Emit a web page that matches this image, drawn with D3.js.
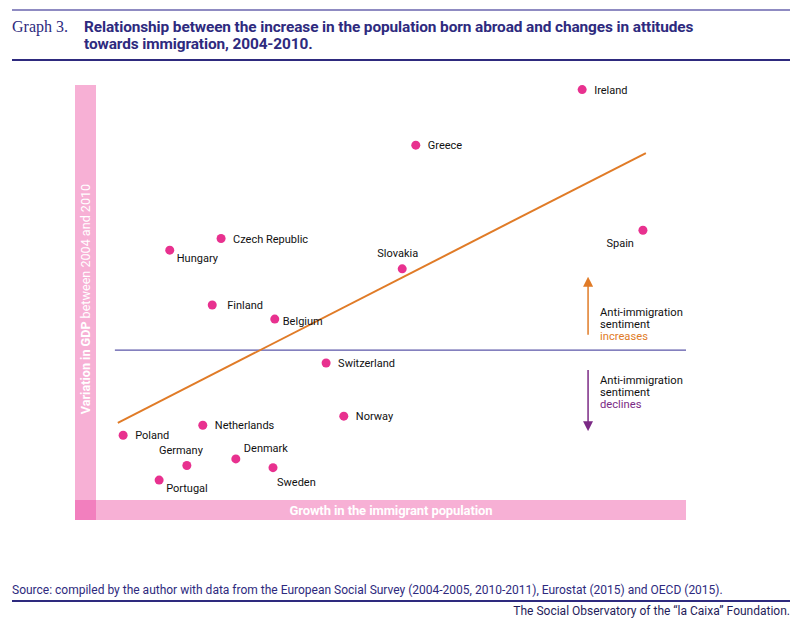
<!DOCTYPE html>
<html>
<head>
<meta charset="utf-8">
<script src="https://cdn.jsdelivr.net/npm/d3@7"></script>
<style>
  body { margin: 0; background: #fff; }
  text { font-family: Roboto, "Noto Sans", sans-serif; }
</style>
</head>
<body>
<script>
// chart values (abstract units, no ticks on the original)
var countries = ["Ireland","Greece","Czech Republic","Hungary","Finland","Belgium",
                 "Switzerland","Slovakia","Spain","Norway","Poland","Netherlands",
                 "Germany","Denmark","Sweden","Portugal"];
var growth    = [82.4, 54.2, 21.2, 12.5, 19.7, 30.3, 39.0, 51.9, 92.7, 42.0, 4.6, 18.1, 15.4, 23.7, 30.0, 10.7];
var gdpChange = [98.9, 85.5, 63.0, 60.2, 47.0, 43.6, 33.0, 55.7, 65.0, 20.2, 15.6, 18.0, 8.3, 9.9, 7.8, 4.8];
var trendX = [3.7, 93.2];
var trendY = [18.6, 83.6];
var refLevel = 36.1;

// where each label sits relative to its dot
var labelPos = {
  "Hungary":"belowRight", "Slovakia":"aboveLeft", "Spain":"belowLeft",
  "Germany":"aboveLeft", "Denmark":"aboveRight", "Sweden":"below",
  "Portugal":"belowRight", "Belgium":"nearRight", "Finland":"farRight"
};

var svgWidth = 800, svgHeight = 626;
var navy = "#2e2a7e", pink = "#e8318f", band = "#f7b0d5", corner = "#f27fbe";
var orange = "#e07b27", purple = "#7b2a85";

var svg = d3.select("body").append("svg")
    .attr("width", svgWidth)
    .attr("height", svgHeight);

var x = d3.scaleLinear().domain([0, 100]).range([96, 686]);
var y = d3.scaleLinear().domain([0, 100]).range([500, 85]);

// header
svg.append("line").attr("x1",12).attr("x2",790).attr("y1",10).attr("y2",10)
   .attr("stroke","#8f8bc2").attr("stroke-width",2);
svg.append("line").attr("x1",12).attr("x2",790).attr("y1",60).attr("y2",60)
   .attr("stroke",navy).attr("stroke-width",2);
svg.append("text").attr("x",12).attr("y",32)
   .style("font-family","'Liberation Serif', 'DejaVu Serif', serif")
   .attr("font-size","16px").attr("fill",navy).text("Graph 3.");
var title = svg.append("text").attr("fill",navy).attr("font-weight","bold")
   .attr("font-size","15.4px").attr("letter-spacing","-0.1px");
title.append("tspan").attr("x",84).attr("y",32)
   .text("Relationship between the increase in the population born abroad and changes in attitudes");
title.append("tspan").attr("x",84).attr("y",49)
   .text("towards immigration, 2004-2010.");

// axis bands
svg.append("rect").attr("x",75).attr("y",85).attr("width",21).attr("height",435).attr("fill",band);
svg.append("rect").attr("x",75).attr("y",500).attr("width",611).attr("height",20).attr("fill",band);
svg.append("rect").attr("x",75).attr("y",500).attr("width",21).attr("height",20).attr("fill",corner);

svg.append("text").attr("x",(x(0)+x(100))/2).attr("y",515)
   .attr("text-anchor","middle").attr("fill","#fff").attr("font-weight","bold")
   .attr("font-size","13px").attr("letter-spacing","-0.1px")
   .text("Growth in the immigrant population");

var yl = svg.append("text")
   .attr("transform","translate(90,299) rotate(-90)")
   .attr("text-anchor","middle").attr("fill","#fff").attr("font-size","12.6px");
yl.append("tspan").attr("font-weight","bold").text("Variation in GDP");
yl.append("tspan").text(" between 2004 and 2010");

// reference line
svg.append("line")
   .attr("x1", x(3.2)).attr("x2", x(100))
   .attr("y1", y(refLevel)).attr("y2", y(refLevel))
   .attr("stroke","#5b56a8").attr("stroke-width",1.2);

// trend line
svg.append("line")
   .attr("x1", x(trendX[0])).attr("y1", y(trendY[0]))
   .attr("x2", x(trendX[1])).attr("y2", y(trendY[1]))
   .attr("stroke",orange).attr("stroke-width",2);

// arrows
var defs = svg.append("defs");
[["up",orange],["down",purple]].forEach(function(a){
  defs.append("marker").attr("id","head-"+a[0])
    .attr("viewBox","0 0 10 10").attr("refX",5).attr("refY",5)
    .attr("markerWidth",10).attr("markerHeight",10)
    .attr("markerUnits","userSpaceOnUse").attr("orient","auto")
    .append("path").attr("d","M0,0 L10,5 L0,10 z").attr("fill",a[1]);
});
var ax = x(83.4);
svg.append("line").attr("x1",ax).attr("x2",ax).attr("y1",y(39.8)).attr("y2",y(52.6))
   .attr("stroke",orange).attr("stroke-width",1.5).attr("marker-end","url(#head-up)");
svg.append("line").attr("x1",ax).attr("x2",ax).attr("y1",y(31.3)).attr("y2",y(17.8))
   .attr("stroke",purple).attr("stroke-width",1.5).attr("marker-end","url(#head-down)");

function note(y0, word, col){
  var t = svg.append("text").attr("x",600).attr("font-size","11.2px").attr("fill","#111");
  t.append("tspan").attr("x",600).attr("y",y0).text("Anti-immigration");
  t.append("tspan").attr("x",600).attr("y",y0+12).text("sentiment");
  t.append("tspan").attr("x",600).attr("y",y0+24).attr("fill",col).text(word);
}
note(316, "increases", orange);
note(384, "declines", purple);

// points
var pts = countries.map(function(c,i){ return {name:c, gx:growth[i], gy:gdpChange[i]}; });

svg.selectAll(".dot").data(pts).enter().append("circle")
   .attr("class","dot")
   .attr("cx", function(d){ return x(d.gx); })
   .attr("cy", function(d){ return y(d.gy); })
   .attr("r", 4.5)
   .attr("fill", pink);

var offsets = {
  right:      {dx: 12, dy: 4,  anchor:"start"},
  farRight:   {dx: 15, dy: 4,  anchor:"start"},
  nearRight:  {dx: 8,  dy: 6,  anchor:"start"},
  belowRight: {dx: 7,  dy: 12, anchor:"start"},
  below:      {dx: 4,  dy: 18, anchor:"start"},
  belowLeft:  {dx: -9, dy: 17, anchor:"end"},
  aboveLeft:  {dx: 16, dy: -12, anchor:"end"},
  aboveRight: {dx: 8,  dy: -7, anchor:"start"}
};

svg.selectAll(".lbl").data(pts).enter().append("text")
   .attr("class","lbl")
   .attr("font-size","11px").attr("fill","#111")
   .attr("x", function(d){ return x(d.gx) + offsets[labelPos[d.name] || "right"].dx; })
   .attr("y", function(d){ return y(d.gy) + offsets[labelPos[d.name] || "right"].dy; })
   .attr("text-anchor", function(d){ return offsets[labelPos[d.name] || "right"].anchor; })
   .text(function(d){ return d.name; });

// footer
svg.append("text").attr("x",12).attr("y",594).attr("fill",navy).attr("font-size","12px")
   .text("Source: compiled by the author with data from the European Social Survey (2004-2005, 2010-2011), Eurostat (2015) and OECD (2015).");
svg.append("line").attr("x1",12).attr("x2",790).attr("y1",601).attr("y2",601)
   .attr("stroke",navy).attr("stroke-width",2);
svg.append("text").attr("x",790).attr("y",615).attr("text-anchor","end")
   .attr("fill","#1f1d5a").attr("font-size","12px")
   .text("The Social Observatory of the \u201cla Caixa\u201d Foundation.");
</script>
</body>
</html>
